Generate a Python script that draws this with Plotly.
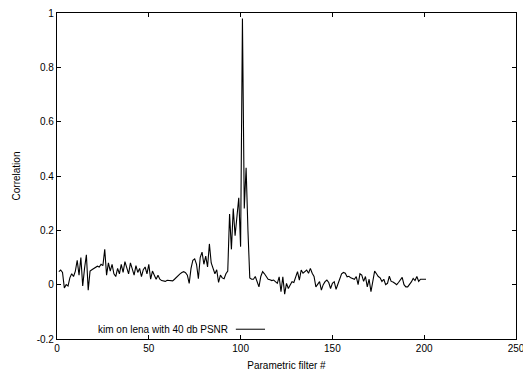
import plotly.graph_objects as go

# Parametric filter index and the measured correlation for each filter
filter_index = list(range(1, 202))
correlation = [
    0.048, 0.054, 0.045, -0.012, 0.000, -0.005, 0.025, 0.040, 0.030, 0.050,   # 1-10
    0.090, 0.035, 0.100, -0.005, 0.060, 0.110, -0.020, 0.050, 0.055, 0.060,   # 11-20
    0.065, 0.068, 0.065, 0.075, 0.070, 0.130, 0.035, 0.080, 0.050, 0.075,     # 21-30
    0.040, 0.030, 0.060, 0.040, 0.075, 0.045, 0.085, 0.065, 0.040, 0.080,     # 31-40
    0.060, 0.035, 0.070, 0.045, 0.060, 0.030, 0.055, 0.065, 0.040, 0.075,     # 41-50
    0.020, 0.050, 0.035, 0.020, 0.035, 0.020, 0.015, 0.012, 0.012, 0.016,     # 51-60
    0.015, 0.013, 0.014, 0.020, 0.028, 0.035, 0.040, 0.045, 0.048, 0.044,     # 61-70
    0.035, 0.005, 0.060, 0.090, 0.095, 0.075, 0.022, 0.100, 0.120, 0.075,     # 71-80
    0.105, 0.065, 0.150, 0.080, 0.055, 0.040, 0.055, 0.008, 0.035, 0.025,     # 81-90
    0.022, 0.040, 0.050, 0.260, 0.130, 0.280, 0.180, 0.250, 0.320, 0.140,     # 91-100
    0.980, 0.280, 0.430, 0.200, 0.025, 0.020, 0.020, 0.030, 0.010, -0.008,    # 101-110
    0.030, 0.048, 0.040, 0.030, 0.020, 0.018, 0.015, 0.017, 0.010, 0.005,     # 111-120
    0.029, -0.026, 0.029, -0.035, 0.005, -0.014, -0.001, 0.011, 0.008, 0.029, # 121-130
    0.048, 0.017, 0.054, 0.042, 0.048, 0.054, 0.042, 0.060, 0.042, 0.030,     # 131-140
    -0.008, 0.000, 0.011, -0.020, 0.000, 0.011, 0.017, 0.008, -0.014, 0.005,  # 141-150
    0.011, -0.017, 0.005, 0.023, 0.040, 0.045, 0.042, 0.029, 0.031, 0.025,    # 151-160
    0.023, 0.020, 0.030, 0.000, 0.040, 0.035, 0.012, 0.030, -0.008, 0.020,    # 161-170
    -0.026, 0.020, 0.050, 0.040, 0.030, 0.025, 0.012, 0.020, 0.000, 0.005,    # 171-180
    0.031, 0.012, 0.010, 0.005, 0.000, 0.008, 0.020, 0.027, 0.000, -0.008,    # 181-190
    -0.008, 0.000, 0.010, 0.023, 0.015, 0.030, 0.012, 0.020, 0.020, 0.020,    # 191-200
    0.020,                                                                     # 201
]

x_ticks = [0, 50, 100, 150, 200, 250]
y_ticks = [-0.2, 0, 0.2, 0.4, 0.6, 0.8, 1]
y_tick_text = ["-0.2", "0", "0.2", "0.4", "0.6", "0.8", "1"]

series_name = "kim on lena with 40 db PSNR"

font = dict(family="Liberation Sans, Arial, sans-serif", size=10, color="#000000")

fig = go.Figure()
fig.add_trace(go.Scatter(
    x=filter_index, y=correlation, mode="lines",
    line=dict(color="#000000", width=1.1),
    name=series_name, showlegend=False,
))

axis_common = dict(
    showgrid=False, zeroline=False, showline=True, mirror="allticks",
    linecolor="#000000", linewidth=1.2, ticks="inside", ticklen=4,
    tickcolor="#000000", tickwidth=1, tickfont=font,
    ticklabeloverflow="allow", automargin=False,
)

fig.update_xaxes(
    range=[0, 250], tickvals=x_ticks,
    title=dict(text="Parametric filter #", font=font, standoff=8),
    **axis_common,
)
fig.update_yaxes(
    range=[-0.2, 1], tickvals=y_ticks, ticktext=y_tick_text,
    title=dict(text="Correlation", font=font, standoff=14),
    **axis_common,
)

# gnuplot-style key: text on the left, line sample on the right
fig.add_annotation(
    x=94.2, y=-0.164, xref="x", yref="y", text=series_name,
    showarrow=False, xanchor="right", yanchor="middle", font=font,
)
fig.add_shape(
    type="line", xref="x", yref="y", x0=97.4, x1=113.3, y0=-0.164, y1=-0.164,
    line=dict(color="#000000", width=1),
)

fig.update_layout(
    width=523, height=376,
    margin=dict(l=57, r=7, t=13, b=37),
    paper_bgcolor="#ffffff", plot_bgcolor="#ffffff",
    font=font,
)

fig.write_html("out.html")
